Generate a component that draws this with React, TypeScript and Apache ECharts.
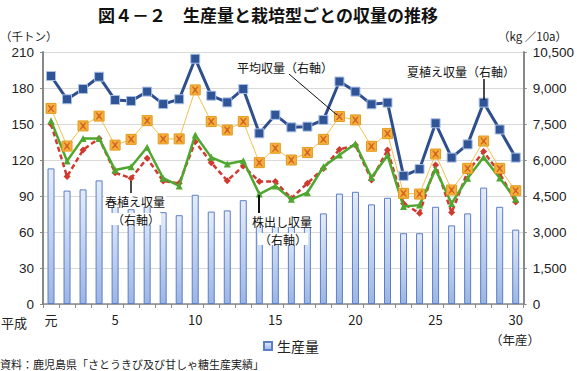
import React, { useEffect, useRef } from "react";
import * as echarts from "echarts";

const categories = ["元","2","3","4","5","6","7","8","9","10","11","12","13","14","15","16","17","18","19","20","21","22","23","24","25","26","27","28","29","30"];
const production = [113, 94.5, 95.5, 103, 82, 79, 82, 76.5, 74, 91, 77, 78, 86.5, 67, 70, 64.5, 65, 75.5, 92, 93.5, 83, 88.5, 59, 59, 81, 65.5, 75.5, 97, 81, 62];
const summerYield = [9500, 8530, 8960, 9470, 8500, 8460, 8850, 8330, 8530, 10220, 8680, 8400, 8960, 7110, 7880, 7360, 7390, 7670, 9270, 8850, 8320, 8390, 5340, 5620, 7530, 6100, 6650, 8390, 7270, 6100];
const averageYield = [8150, 6580, 7420, 7830, 6620, 6860, 7640, 6880, 6880, 8920, 7600, 7250, 7600, 5890, 6490, 6000, 6310, 6860, 7810, 7670, 6570, 7100, 4610, 4580, 6250, 4750, 5650, 6790, 5650, 4720];
const ratoonYield = [7640, 5960, 6900, 6900, 5580, 5720, 6530, 5240, 4920, 7040, 6110, 5830, 5970, 4580, 4920, 4360, 4640, 5720, 6210, 6680, 5270, 6190, 4060, 4120, 5610, 4190, 5240, 6110, 5250, 4370];
const springYield = [7500, 5310, 6420, 6900, 5470, 5240, 6070, 5120, 5030, 6760, 5890, 5140, 5750, 5100, 5100, 4400, 5030, 5650, 6440, 6620, 5170, 6420, 4190, 3780, 5790, 3810, 5510, 6350, 5440, 4250];
const leftTicks = { min: 0, max: 210, interval: 30 };
const rightTicks = { min: 0, max: 10500, interval: 1500 };

const JP = "'Noto Sans CJK JP', sans-serif";
const NUM = "'Liberation Sans', 'Noto Sans CJK JP', sans-serif";

export default function App() {
  const ref = useRef<HTMLDivElement>(null);
  useEffect(() => {
    if (!ref.current) return;
    const chart = echarts.init(ref.current, null, { renderer: "svg" });
    const xPath = "path://M0,0 L2,0 L5,3 L8,0 L10,0 L6.5,5 L10,10 L8,10 L5,7 L2,10 L0,10 L3.5,5 Z";
    const annot = (text: string, x: number, y: number, bg = false) => ({
      type: "text", x, y,
      style: {
        text, font: `12px ${JP}`, fill: "#111", align: "center", verticalAlign: "middle",
        ...(bg ? { backgroundColor: "#fff", padding: [0, 1] } : {}),
      },
      z: 100,
    });
    const lead = (x1: number, y1: number, x2: number, y2: number, w = 1) => ({
      type: "line", shape: { x1, y1, x2, y2 }, style: { stroke: "#111", lineWidth: w }, z: 100,
    });
    chart.setOption({
      animation: false,
      backgroundColor: "#fff",
      grid: { left: 43, right: 50, top: 52, bottom: 67 },
      legend: {
        data: [{ name: "生産量", icon: "rect" }],
        left: 258, top: 334, itemWidth: 8, itemHeight: 8, itemGap: 4,
        textStyle: { fontFamily: JP, fontSize: 14, color: "#222" },
      },
      xAxis: {
        type: "category", data: categories, boundaryGap: true,
        axisLine: { lineStyle: { color: "#888", width: 1.5 } },
        axisTick: { show: true, alignWithLabel: false, interval: 0, length: 4, lineStyle: { color: "#888" } },
        axisLabel: {
          interval: (i: number) => i === 0 || (i + 1) % 5 === 0,
          fontFamily: JP, fontSize: 13, color: "#222", margin: 9,
        },
      },
      yAxis: [
        {
          type: "value", ...leftTicks,
          axisLine: { show: true, lineStyle: { color: "#888", width: 2 } },
          axisTick: { show: true, length: 3, lineStyle: { color: "#888" } },
          axisLabel: { fontFamily: NUM, fontSize: 13.5, color: "#222", margin: 9 },
          splitLine: { lineStyle: { color: "#d9d9d9", width: 1 } },
        },
        {
          type: "value", ...rightTicks,
          axisLine: { show: true, lineStyle: { color: "#888", width: 2 } },
          axisTick: { show: true, length: 3, lineStyle: { color: "#888" } },
          axisLabel: { fontFamily: NUM, fontSize: 13.5, color: "#222", margin: 9,
            formatter: (v: number) => v.toLocaleString("en-US") },
          splitLine: { show: false },
        },
      ],
      series: [
        {
          name: "生産量", type: "bar", data: production, barWidth: 7, yAxisIndex: 0,
          itemStyle: {
            color: new echarts.graphic.LinearGradient(0, 0, 0, 1, [
              { offset: 0, color: "#e4ecf8" }, { offset: 1, color: "#9db5e3" },
            ]),
            borderColor: "#5a7fc8", borderWidth: 1,
          },
          z: 1,
        },
        {
          name: "春植え収量", type: "line", data: springYield, yAxisIndex: 1,
          lineStyle: { color: "#d0392f", width: 2.5, type: [5, 3] },
          symbol: "diamond", symbolSize: 7, itemStyle: { color: "#d0392f" }, z: 3,
        },
        {
          name: "株出し収量", type: "line", data: ratoonYield, yAxisIndex: 1,
          lineStyle: { color: "#4ea72e", width: 2.5 },
          symbol: "triangle", symbolSize: 7, itemStyle: { color: "#4ea72e" }, z: 4,
        },
        {
          name: "平均収量", type: "line", data: averageYield, yAxisIndex: 1,
          lineStyle: { color: "#f2c14e", width: 1 },
          symbol: "rect", symbolSize: 10,
          itemStyle: { color: "#f5b13d", borderColor: "#e39a1c", borderWidth: 1 }, z: 5,
        },
        {
          name: "平均収量X", type: "scatter", data: averageYield, yAxisIndex: 1,
          symbol: xPath, symbolSize: 7, itemStyle: { color: "#c8501e" }, z: 6, silent: true,
        },
        {
          name: "夏植え収量", type: "line", data: summerYield, yAxisIndex: 1,
          lineStyle: { color: "#2e4e8e", width: 3 },
          symbol: "rect", symbolSize: 9,
          itemStyle: { color: "#2f5597", borderColor: "#a9c0e6", borderWidth: 1 }, z: 7,
        },
      ],
      graphic: [
        { type: "text", x: 268, y: 14, style: { text: "図４－２　生産量と栽培型ごとの収量の推移", font: `bold 17px ${JP}`, fill: "#111", align: "center", verticalAlign: "middle" } },
        { type: "text", x: 0, y: 36, style: { text: "（千トン）", font: `11.5px ${JP}`, fill: "#222", align: "left", verticalAlign: "middle" } },
        { type: "text", x: 567, y: 36, style: { text: "（kg ／10a）", font: `11.5px ${JP}`, fill: "#222", align: "right", verticalAlign: "middle" } },
        { type: "text", x: 1, y: 322, style: { text: "平成", font: `13px ${JP}`, fill: "#222", align: "left", verticalAlign: "middle" } },
        { type: "text", x: 515, y: 339, style: { text: "（年産）", font: `12.5px ${JP}`, fill: "#222", align: "center", verticalAlign: "middle" } },
        { type: "text", x: 0, y: 364, style: { text: "資料：鹿児島県「さとうきび及び甘しゃ糖生産実績」", font: `11px ${JP}`, fill: "#222", align: "left", verticalAlign: "middle" } },
        annot("平均収量（右軸）", 285, 67),
        lead(289, 74, 337, 115),
        annot("夏植え収量（右軸）", 461, 71),
        lead(484, 79, 484, 100, 1.5),
        lead(131, 181, 131, 193, 1.5),
        annot("春植え収量", 135, 201, true),
        annot("（右軸）", 136, 219, true),
        lead(259, 195, 259, 213, 2),
        annot("株出し収量", 282, 221, true),
        annot("（右軸）", 283, 239, true),
      ],
    });
    return () => chart.dispose();
  }, []);
  return <div ref={ref} style={{ width: 577, height: 371, position: "absolute", left: 0, top: 0 }} />;
}
